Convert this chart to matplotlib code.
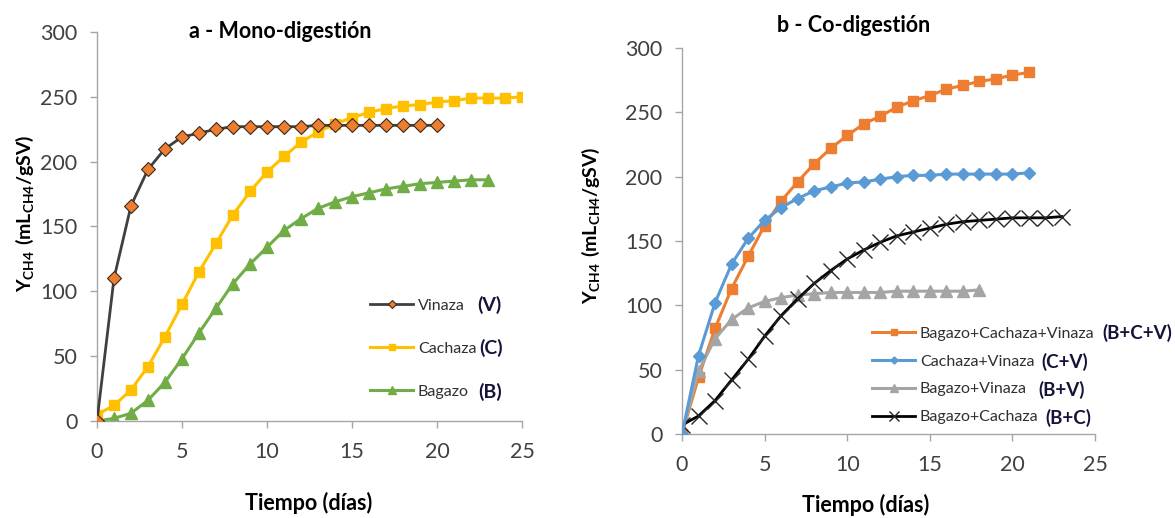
import matplotlib.pyplot as plt

plt.rcParams['font.family'] = ['Lato', 'DejaVu Sans']
plt.rcParams['mathtext.fontset'] = 'custom'
plt.rcParams['mathtext.rm'] = 'Lato'
plt.rcParams['mathtext.bf'] = 'Lato:bold'

# a) Mono-digestion data (daily readings)
dias_v = list(range(0, 21))
vinaza = [0, 110, 166, 194, 210, 219, 222, 225, 227, 227, 227,
          227, 227, 228, 228, 228, 228, 228, 228, 228, 228]
dias_c = list(range(0, 26))
cachaza = [5, 12, 24, 42, 65, 90, 115, 137, 159, 177, 192, 204, 215,
           223, 229, 234, 238, 241, 243, 244, 246, 247, 249, 249, 249, 250]
dias_b = list(range(0, 24))
bagazo = [0, 2, 6, 16, 30, 48, 68, 87, 106, 121, 134, 147, 156, 164,
          169, 173, 176, 179, 181, 183, 184, 185, 186, 186]

# b) Co-digestion data
dias_bcv = list(range(0, 22))
bcv = [0, 44, 82, 113, 138, 162, 181, 196, 210, 222, 232, 241, 247,
       254, 259, 263, 268, 271, 274, 276, 279, 281]
dias_cv = list(range(0, 22))
cv = [0, 61, 102, 132, 152, 166, 176, 183, 189, 192, 195, 196, 198,
      200, 201, 201, 202, 202, 202, 202, 202, 203]
dias_bv = list(range(0, 19))
bv = [0, 49, 74, 89, 98, 103, 106, 108, 109, 110, 110, 110, 110,
      111, 111, 111, 111, 111, 112]
dias_bc = list(range(0, 24))
bc = [7, 14, 26, 42, 58, 76, 92, 105, 117, 127, 136, 143, 149, 154,
      157, 160, 163, 165, 166, 167, 168, 168, 168, 169]

W, H = 1175, 518
fig = plt.figure(figsize=(W / 100, H / 100), dpi=100)

axA = fig.add_axes([97 / W, 1 - 421 / H, 425 / W, 389 / H])
axB = fig.add_axes([682 / W, 1 - 434 / H, 413 / W, 386 / H])

ylab = r'$\mathbf{Y_{CH4}\ (mL_{CH4}/gSV)}$'
tick_col = '#404040'
spine_col = '#A6A6A6'
bold_col = '#14143a'

for ax in (axA, axB):
    ax.set_xlim(0, 25)
    ax.set_ylim(0, 300)
    ax.set_xticks([0, 5, 10, 15, 20, 25])
    ax.set_yticks([0, 50, 100, 150, 200, 250, 300])
    ax.spines['top'].set_visible(False)
    ax.spines['right'].set_visible(False)
    for s in ('left', 'bottom'):
        ax.spines[s].set_color(spine_col)
        ax.spines[s].set_linewidth(1.0)
    ax.tick_params(axis='both', labelsize=15.5, colors=spine_col,
                   labelcolor=tick_col, length=5, width=1.0, direction='out')
    ax.tick_params(axis='x', pad=10)
    ax.tick_params(axis='y', pad=9)

# titles and axis labels
fig.text(280 / W, 1 - 31 / H, 'a - Mono-digestión', fontsize=15.5,
         fontweight='bold', ha='center', va='center')
fig.text(854 / W, 1 - 26 / H, 'b - Co-digestión', fontsize=15.5,
         fontweight='bold', ha='center', va='center')
fig.text(309 / W, 1 - 503 / H, 'Tiempo (días)', fontsize=15.5,
         fontweight='bold', ha='center', va='center')
fig.text(866 / W, 1 - 505 / H, 'Tiempo (días)', fontsize=15.5,
         fontweight='bold', ha='center', va='center')
fig.text(25 / W, 1 - 213 / H, ylab, fontsize=14, rotation=90,
         ha='center', va='center')
fig.text(591 / W, 1 - 225 / H, ylab, fontsize=14, rotation=90,
         ha='center', va='center')

# panel a
axA.plot(dias_v, vinaza, color='#404040', lw=2, marker='D', ms=7,
         mfc='#ED7D31', mec='#3a2a1a', mew=0.8, label='Vinaza', zorder=3)
axA.plot(dias_c, cachaza, color='#FFC000', lw=2.2, marker='s', ms=7.5,
         label='Cachaza', zorder=2)
axA.plot(dias_b, bagazo, color='#70AD47', lw=2.2, marker='^', ms=8.5,
         label='Bagazo', zorder=2)

legA = axA.legend(loc='center left', bbox_to_anchor=(370 / W, 1 - 348.5 / H),
                  bbox_transform=fig.transFigure, frameon=False, fontsize=11.5,
                  borderpad=0, borderaxespad=0, handlelength=2.7,
                  handletextpad=0.3, labelspacing=1.8, markerscale=0.6)
for t in legA.get_texts():
    t.set_color('#303030')

bold_a = ['(V)', '(C)', '(B)']
bold_a_pos = [(477, 305), (479, 348), (478, 392)]
for s, (px, py) in zip(bold_a, bold_a_pos):
    fig.text(px / W, 1 - py / H, s, fontsize=14, fontweight='bold',
             color=bold_col, va='center')

# panel b
axB.plot(dias_bcv, bcv, color='#ED7D31', lw=2.2, marker='s', ms=7.5,
         label='Bagazo+Cachaza+Vinaza', zorder=2)
axB.plot(dias_cv, cv, color='#5B9BD5', lw=2.2, marker='D', ms=6,
         label='Cachaza+Vinaza', zorder=3)
axB.plot(dias_bv, bv, color='#A5A5A5', lw=2.2, marker='^', ms=8.5,
         label='Bagazo+Vinaza', zorder=2)
axB.plot(dias_bc, bc, color='black', lw=2, marker='x', ms=11, mew=1.0,
         mec='#262626', label='Bagazo+Cachaza', zorder=2)

legB = axB.legend(loc='center left', bbox_to_anchor=(872 / W, 1 - 375.5 / H),
                  bbox_transform=fig.transFigure, frameon=False, fontsize=11.5,
                  borderpad=0, borderaxespad=0, handlelength=2.7,
                  handletextpad=0.3, labelspacing=0.85, markerscale=0.6)
for t in legB.get_texts():
    t.set_color('#303030')

bold_b = ['(B+C+V)', '(C+V)', '(B+V)', '(B+C)']
bold_b_pos = [(1102, 333), (1041, 362), (1038, 390), (1045, 418)]
for s, (px, py) in zip(bold_b, bold_b_pos):
    fig.text(px / W, 1 - py / H, s, fontsize=13.5, fontweight='bold',
             color=bold_col, va='center')

fig.savefig('out.png', dpi=100)
